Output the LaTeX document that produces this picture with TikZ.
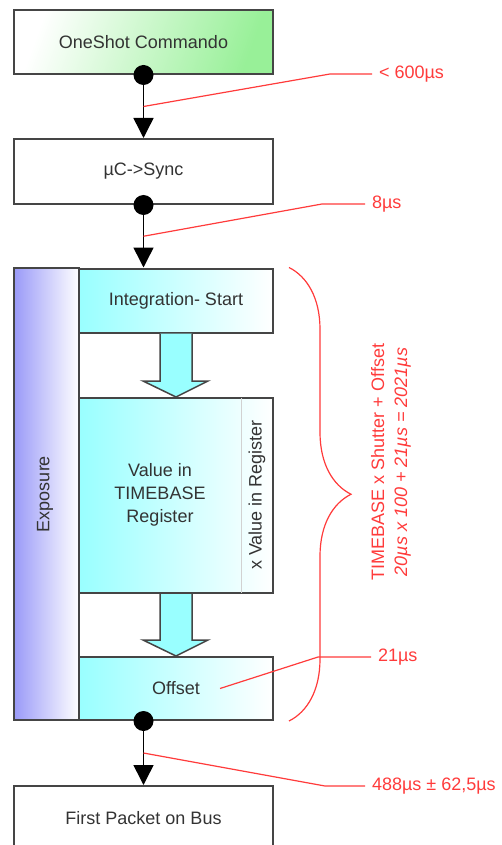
\documentclass[tikz,border=0pt]{standalone}
\usepackage{fontspec}
\setmainfont{Liberation Sans}
\usetikzlibrary{arrows.meta, calc, decorations.pathreplacing}
\definecolor{box-gray}{HTML}{454545}
\definecolor{text-gray}{HTML}{333333}
\definecolor{note-red}{HTML}{FF3B3B}
\definecolor{soft-green}{HTML}{98F098}
\definecolor{soft-cyan}{HTML}{99FFFF}
\definecolor{soft-blue}{HTML}{9A9AF8}

\begin{document}
\begin{tikzpicture}[x=0.5pt, y=-0.5pt,
      every node/.style={font=\fontsize{9}{11.5}\selectfont, text=text-gray},
      stepbox/.style={draw=box-gray, line width=1pt, minimum width=129.5pt, minimum height=32pt, inner sep=0pt},
      phasebox/.style={stepbox, minimum width=97pt, left color=soft-cyan, right color=white},
      note/.style={text=note-red, anchor=west},
      flow/.style={line width=0.75pt, -{Triangle[width=10pt, length=10pt]}}]
    \useasboundingbox (0,0) rectangle (502,845);
    % left column and phases
    \node[stepbox, minimum width=32.5pt, minimum height=226pt, left color=soft-blue, right color=white] (expo) at (46.5,494) {};
    \node[rotate=90] (expotxt) at (45,494) {Exposure};
    \node[phasebox] (integ) at (176,300.5) {Integration- Start};
    \node[phasebox, minimum height=97.5pt] (value) at (176,495.5) {};
    \node[align=center] (valtxt) at (160,495) {Value in\\TIMEBASE\\Register};
    \draw[gray!35, line width=0.5pt] (241,398) -- (241,593);
    \node[rotate=90] (reg) at (257,495) {x Value in Register};
    \node[phasebox, minimum height=31.5pt] (offs) at (176,688.5) {Offset};
    \foreach \a/\b in {integ/value, value/offs}
      \draw[draw=box-gray, line width=0.75pt, fill=soft-cyan]
        ($(\a.south)+(-16,0)$) -- ($(\b.north)+(-16,-16)$) -- ($(\b.north)+(-33,-16)$)
        -- (\b.north) -- ($(\b.north)+(32,-16)$) -- ($(\b.north)+(16,-16)$)
        -- ($(\a.south)+(16,0)$);
    % steps
    \node[stepbox, left color=white, right color=soft-green, shading angle=70] (cmd) at (143.5,42) {OneShot Commando};
    \node[stepbox, minimum height=32.5pt] (sync) at (143.5,171.5) {µC->Sync};
    \node[stepbox] (packet) at (143.5,818) {First Packet on Bus};
    \coordinate (xo) at (packet.north |- offs.south);
    \draw[flow] (cmd.south) -- (sync.north);
    \draw[flow] (sync.south) -- (integ.north -| sync.south);
    \draw[flow] (xo) -- (packet.north);
    \foreach \p in {cmd.south, sync.south, xo}
      \fill (\p) circle (5pt);
    % timing notes
    \node[note] (t600) at (372,74) {< 600µs};
    \node[note] (t8) at (365,204) {8µs};
    \node[note] (t21) at (371,657) {21µs};
    \node[note] (t488) at (365,786) {488µs ± 62,5µs};
    \draw[note-red, line width=0.6pt] ($(cmd.south)!0.5!(sync.north)$) -- ($(t600.west)+(-42,0)$) -- (t600.west);
    \draw[note-red, line width=0.6pt] ($(sync.south)!0.5!(integ.north -| sync.south)$) -- ($(t8.west)+(-43,0)$) -- (t8.west);
    \draw[note-red, line width=0.6pt] ($(offs.center)+(44,0)$) -- ($(t21.west)+(-53,0)$) -- (t21.west);
    \draw[note-red, line width=0.6pt] ($(xo)!0.5!(packet.north)$) -- ($(t488.west)+(-40,0)$) -- (t488.west);
    \draw[note-red, line width=0.6pt, decorate, decoration={brace, amplitude=31pt}]
      ($(integ.north east)+(15,0)$) -- ($(offs.south east)+(15,0)$);
    \node[note, anchor=center, rotate=90, align=center] (formula) at (391,462)
      {TIMEBASE x Shutter + Offset\\\textit{20µs x 100 + 21µs = 2021µs}};
\end{tikzpicture}
\end{document}
